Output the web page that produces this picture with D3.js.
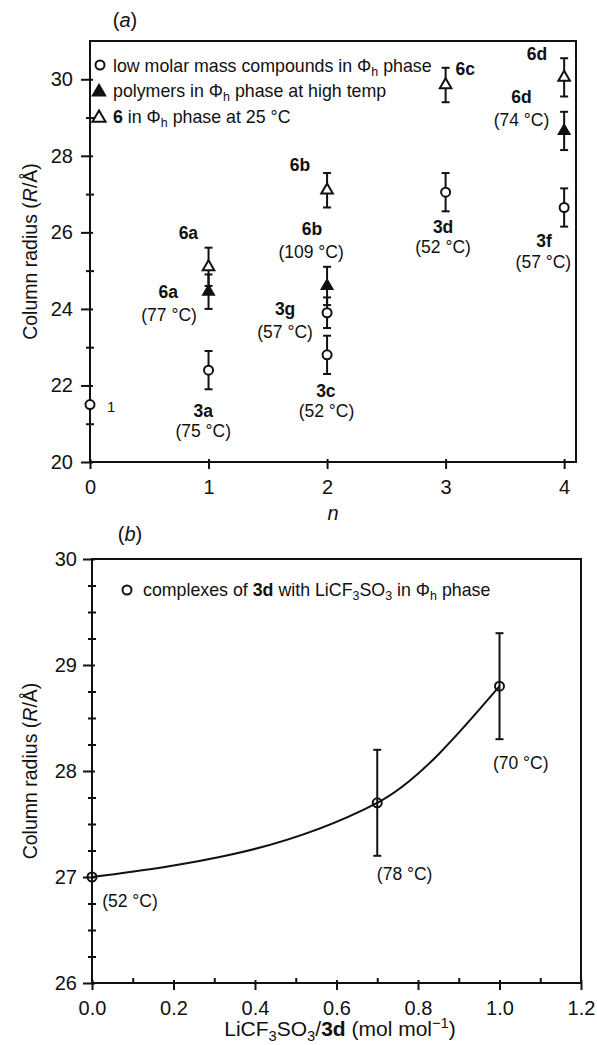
<!DOCTYPE html>
<html>
<head>
<meta charset="utf-8">
<script src="https://cdn.jsdelivr.net/npm/d3@7/dist/d3.min.js"></script>
<style>
  body { margin: 0; background: #fff; }
  svg { display: block; }
  text, tspan { font-family: "Liberation Sans", Arial, Helvetica, sans-serif; fill: #111; }
</style>
</head>
<body>
<div class="chart"></div>
<script>
// ---- panel (a): column radius vs n ----
const nTicks = [0, 1, 2, 3, 4]
const radiusTicksA = [20, 22, 24, 26, 28, 30]
const radiusMinorA = [21, 23, 25, 27, 29]

// low molar mass compounds in Phi_h phase
const lowMolar = [
  { n: 0, r: 21.5, err: 0 },
  { n: 1, r: 22.4, err: 0.5 },
  { n: 2, r: 23.9, err: 0.4 },
  { n: 2, r: 22.8, err: 0.5 },
  { n: 3, r: 27.05, err: 0.5 },
  { n: 4, r: 26.65, err: 0.5 },
]
// polymers in Phi_h phase at high temp
const polymers = [
  { n: 1, r: 24.45, err: 0.45 },
  { n: 2, r: 24.6, err: 0.5 },
  { n: 4, r: 28.65, err: 0.5 },
]
// 6 in Phi_h phase at 25 °C
const sixAt25 = [
  { n: 1, r: 25.1, err: 0.5 },
  { n: 2, r: 27.1, err: 0.45 },
  { n: 3, r: 29.85, err: 0.45 },
  { n: 4, r: 30.05, err: 0.5 },
]
// point labels, anchored in data units
const compoundLabelsA = [
  { text: "3a", n: 0.955, r: 21.18 },
  { text: "6a", n: 0.66, r: 24.29 },
  { text: "6a", n: 0.83, r: 25.83 },
  { text: "6b", n: 1.772, r: 27.6 },
  { text: "6b", n: 1.873, r: 25.93 },
  { text: "3g", n: 1.646, r: 23.84 },
  { text: "3c", n: 1.99, r: 21.7 },
  { text: "3d", n: 2.979, r: 25.98 },
  { text: "3f", n: 3.83, r: 25.62 },
  { text: "6c", n: 3.165, r: 30.11 },
  { text: "6d", n: 3.77, r: 30.5 },
  { text: "6d", n: 3.64, r: 29.38 },
]
const tempLabelsA = [
  { text: "(75 °C)", n: 0.955, r: 20.65 },
  { text: "(77 °C)", n: 0.667, r: 23.68 },
  { text: "(109 °C)", n: 1.865, r: 25.33 },
  { text: "(57 °C)", n: 1.646, r: 23.24 },
  { text: "(52 °C)", n: 1.995, r: 21.18 },
  { text: "(52 °C)", n: 2.979, r: 25.46 },
  { text: "(57 °C)", n: 3.825, r: 25.07 },
  { text: "(74 °C)", n: 3.64, r: 28.78 },
]

// ---- panel (b): complexes of 3d with LiCF3SO3 ----
const ratioTicks = [0, 0.2, 0.4, 0.6, 0.8, 1.0, 1.2]
const ratioMinor = [0.1, 0.3, 0.5, 0.7, 0.9, 1.1]
const radiusTicksB = [26, 27, 28, 29, 30]
const radiusMinorB = [26.25, 26.5, 26.75, 27.25, 27.5, 27.75, 28.25, 28.5, 28.75, 29.25, 29.5, 29.75]
const complexes = [
  { x: 0, r: 27.0, err: 0 },
  { x: 0.7, r: 27.7, err: 0.5 },
  { x: 1.0, r: 28.8, err: 0.5 },
]
const tempLabelsB = [
  { text: "(52 °C)", x: 0.025, r: 26.72 },
  { text: "(78 °C)", x: 0.699, r: 26.97 },
  { text: "(70 °C)", x: 0.984, r: 28.02 },
]

const W = 597, H = 1045
const svg = d3.select(".chart").append("svg").attr("width", W).attr("height", H)

// write text with bold / italic / sub / sup pieces
function rich(sel, parts, size) {
  let shift = 0
  parts.forEach(([s, st]) => {
    const t = sel.append("tspan").text(s).attr("fill", "#111")
    const target = st === "sub" ? size * 0.25 : st === "sup" ? -size * 0.4 : 0
    if (target !== shift) { t.attr("dy", target - shift); shift = target }
    if (st === "b") t.attr("font-weight", "bold")
    if (st === "i") t.attr("font-style", "italic")
    if (st === "sub" || st === "sup") t.attr("font-size", size * 0.7)
  })
}

function frame(x, y) {
  svg.append("rect")
    .attr("x", x.range()[0]).attr("y", y.range()[1])
    .attr("width", x.range()[1] - x.range()[0])
    .attr("height", y.range()[0] - y.range()[1])
    .attr("fill", "none").attr("stroke", "#111").attr("stroke-width", 2)
}

function axes(x, y, o) {
  const gx = svg.append("g").attr("transform", `translate(0,${y.range()[0]})`)
    .call(d3.axisBottom(x).tickValues(o.xt).tickFormat(o.xf).tickSize(7).tickPadding(o.xpad))
  gx.select(".domain").remove()
  gx.selectAll(".tick line").attr("y1", -3)
  gx.selectAll("text").attr("font-size", 20).attr("fill", "#111")

  const gxm = svg.append("g").attr("transform", `translate(0,${y.range()[0]})`)
    .call(d3.axisBottom(x).tickValues(o.xm).tickFormat("").tickSize(-5))
  gxm.select(".domain").remove()

  const gy = svg.append("g").attr("transform", `translate(${x.range()[0]},0)`)
    .call(d3.axisLeft(y).tickValues(o.yt).tickFormat(d3.format("d")).tickSize(9).tickPadding(o.ypad))
  gy.select(".domain").remove()
  gy.selectAll(".tick line").attr("x1", 3)
  gy.selectAll("text").attr("font-size", 20).attr("fill", "#111")

  const gym = svg.append("g").attr("transform", `translate(${x.range()[0]},0)`)
    .call(d3.axisLeft(y).tickValues(o.ym).tickFormat("").tickSize(4))
  gym.select(".domain").remove()
  gym.selectAll(".tick line").attr("x1", 4)

  svg.selectAll(".tick line").attr("stroke", "#111").attr("stroke-width", 2)
  frame(x, y)
}

function errorBars(g, data, x, y, key) {
  const eb = g.selectAll(null).data(data.filter(d => d.err > 0)).join("g")
  eb.append("line")
    .attr("x1", d => x(d[key])).attr("x2", d => x(d[key]))
    .attr("y1", d => y(d.r - d.err)).attr("y2", d => y(d.r + d.err))
  eb.append("line")
    .attr("x1", d => x(d[key]) - 4).attr("x2", d => x(d[key]) + 4)
    .attr("y1", d => y(d.r + d.err)).attr("y2", d => y(d.r + d.err))
  eb.append("line")
    .attr("x1", d => x(d[key]) - 4).attr("x2", d => x(d[key]) + 4)
    .attr("y1", d => y(d.r - d.err)).attr("y2", d => y(d.r - d.err))
  eb.selectAll("line").attr("stroke", "#111").attr("stroke-width", 2)
}

const tri = d3.symbol().type(d3.symbolTriangle).size(58)()
const triLegend = d3.symbol().type(d3.symbolTriangle).size(75)()

// ===== panel (a) =====
const xA = d3.scaleLinear().domain([0, 4.1]).range([90, 576])
const yA = d3.scaleLinear().domain([20, 31]).range([462, 41])

axes(xA, yA, {
  xt: nTicks, xm: [], xf: d3.format("d"), xpad: 11,
  yt: radiusTicksA, ym: radiusMinorA, ypad: 8,
})

const gA = svg.append("g")
errorBars(gA, lowMolar, xA, yA, "n")
errorBars(gA, polymers, xA, yA, "n")
errorBars(gA, sixAt25, xA, yA, "n")

gA.selectAll(null).data(lowMolar).join("circle")
  .attr("cx", d => xA(d.n)).attr("cy", d => yA(d.r)).attr("r", 4.5)
  .attr("fill", "#fff").attr("stroke", "#111").attr("stroke-width", 2)
gA.selectAll(null).data(sixAt25).join("path")
  .attr("d", tri).attr("transform", d => `translate(${xA(d.n)},${yA(d.r)})`)
  .attr("fill", "#fff").attr("stroke", "#111").attr("stroke-width", 2)
gA.selectAll(null).data(polymers).join("path")
  .attr("d", tri).attr("transform", d => `translate(${xA(d.n)},${yA(d.r)})`)
  .attr("fill", "#111").attr("stroke", "#111").attr("stroke-width", 1.5)

gA.selectAll(null).data(compoundLabelsA).join("text")
  .attr("x", d => xA(d.n)).attr("y", d => yA(d.r))
  .attr("text-anchor", "middle").attr("font-size", 17.5).attr("font-weight", "bold")
  .text(d => d.text)
gA.selectAll(null).data(tempLabelsA).join("text")
  .attr("x", d => xA(d.n)).attr("y", d => yA(d.r))
  .attr("text-anchor", "middle").attr("font-size", 17.5)
  .text(d => d.text)
gA.append("text")
  .attr("x", xA(0) + 17).attr("y", yA(lowMolar[0].r) + 7)
  .attr("font-size", 15).text("1")

// legend (a)
const legA = svg.append("g").attr("transform", `translate(${xA(0) + 10},${yA.range()[1]})`)
legA.append("circle").attr("cx", 0).attr("cy", 24).attr("r", 4.5)
  .attr("fill", "#fff").attr("stroke", "#111").attr("stroke-width", 2)
legA.append("path").attr("d", triLegend).attr("transform", "translate(-1,51)")
  .attr("fill", "#111").attr("stroke", "#111").attr("stroke-width", 1.5)
legA.append("path").attr("d", triLegend).attr("transform", "translate(-1,77)")
  .attr("fill", "#fff").attr("stroke", "#111").attr("stroke-width", 2)
rich(legA.append("text").attr("x", 13).attr("y", 30.5).attr("font-size", 17.8),
  [["low molar mass compounds in Φ"], ["h", "sub"], [" phase"]], 17.8)
rich(legA.append("text").attr("x", 13).attr("y", 56).attr("font-size", 17.8),
  [["polymers in Φ"], ["h", "sub"], [" phase at high temp"]], 17.8)
rich(legA.append("text").attr("x", 13).attr("y", 81.5).attr("font-size", 17.8),
  [["6", "b"], [" in Φ"], ["h", "sub"], [" phase at 25 °C"]], 17.8)

// titles (a)
rich(svg.append("text").attr("x", 125).attr("y", 27).attr("text-anchor", "middle").attr("font-size", 20),
  [["("], ["a", "i"], [")"]], 20)
rich(svg.append("text").attr("transform", `translate(37,${(yA.range()[0] + yA.range()[1]) / 2}) rotate(-90)`)
  .attr("text-anchor", "middle").attr("font-size", 19.5),
  [["Column radius ("], ["R", "i"], ["/Å)"]], 19.5)
svg.append("text").attr("x", (xA.range()[0] + xA.range()[1]) / 2).attr("y", 520)
  .attr("text-anchor", "middle").attr("font-size", 20).attr("font-style", "italic").text("n")

// ===== panel (b) =====
const xB = d3.scaleLinear().domain([0, 1.2]).range([92, 581])
const yB = d3.scaleLinear().domain([26, 30]).range([983, 559])

axes(xB, yB, {
  xt: ratioTicks, xm: ratioMinor, xf: d3.format(".1f"), xpad: 11,
  yt: radiusTicksB, ym: radiusMinorB, ypad: 6,
})

const gB = svg.append("g")
gB.append("path").datum(complexes)
  .attr("d", d3.line().x(d => xB(d.x)).y(d => yB(d.r)).curve(d3.curveMonotoneX))
  .attr("fill", "none").attr("stroke", "#111").attr("stroke-width", 2)
errorBars(gB, complexes, xB, yB, "x")
gB.selectAll(null).data(complexes).join("circle")
  .attr("cx", d => xB(d.x)).attr("cy", d => yB(d.r)).attr("r", 4.5)
  .attr("fill", "none").attr("stroke", "#111").attr("stroke-width", 2)
gB.selectAll(null).data(tempLabelsB).join("text")
  .attr("x", d => xB(d.x)).attr("y", d => yB(d.r))
  .attr("font-size", 17.5).text(d => d.text)

// legend (b)
const legB = svg.append("g").attr("transform", `translate(${xB(0) + 35},${yB.range()[1]})`)
legB.append("circle").attr("cx", 0).attr("cy", 31).attr("r", 4.5)
  .attr("fill", "#fff").attr("stroke", "#111").attr("stroke-width", 2)
rich(legB.append("text").attr("x", 16).attr("y", 37).attr("font-size", 17.8),
  [["complexes of "], ["3d", "b"], [" with LiCF"], ["3", "sub"], ["SO"], ["3", "sub"], [" in Φ"], ["h", "sub"], [" phase"]], 17.8)

// titles (b)
rich(svg.append("text").attr("x", 130).attr("y", 541).attr("text-anchor", "middle").attr("font-size", 20),
  [["("], ["b", "i"], [")"]], 20)
rich(svg.append("text").attr("transform", `translate(37,${(yB.range()[0] + yB.range()[1]) / 2}) rotate(-90)`)
  .attr("text-anchor", "middle").attr("font-size", 19.5),
  [["Column radius ("], ["R", "i"], ["/Å)"]], 19.5)
rich(svg.append("text").attr("x", 340).attr("y", 1036).attr("text-anchor", "middle").attr("font-size", 21),
  [["LiCF"], ["3", "sub"], ["SO"], ["3", "sub"], ["/"], ["3d", "b"], [" (mol mol"], ["−1", "sup"], [")"]], 21)
</script>
</body>
</html>
